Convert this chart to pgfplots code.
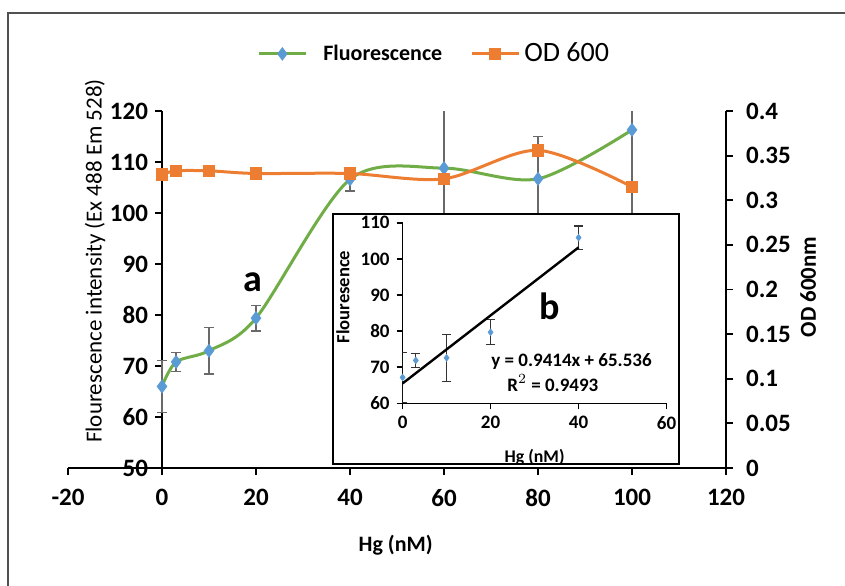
\documentclass[border=0pt]{standalone}
\usepackage{fontspec}
\setmainfont{Carlito}
\usepackage{pgfplots}
\usepackage{pgfplotstable}
\pgfplotsset{compat=1.18}
\definecolor{exgreen}{RGB}{112,173,71}
\definecolor{exblue}{RGB}{91,155,213}
\definecolor{exorange}{RGB}{237,125,49}
\definecolor{errgray}{RGB}{105,105,105}
\definecolor{framegray}{RGB}{80,80,80}

% main chart: fluorescence (left axis) with error
\pgfplotstableread{
x f fe
0 66.0 5.1
3 70.8 1.9
10 73.0 4.6
20 79.4 2.5
40 106.6 2.3
60 108.8 15
80 106.7 8.3
100 116.3 20
}\fluor
% main chart: OD 600 (right axis)
\pgfplotstableread{
x od
0 0.329
3 0.333
10 0.333
20 0.330
40 0.330
60 0.324
80 0.356
100 0.315
}\odtab
% inset b
\pgfplotstableread{
x f fe
0 67.2 7.0
3 71.9 1.9
10 72.6 6.5
20 79.7 3.5
40 105.9 3.2
}\insettab

\begin{document}
\begin{tikzpicture}
\path[use as bounding box] (-34pt,-58.5pt) rectangle (388.5pt,234pt);
\draw[framegray,line width=1pt] (-30pt,-60pt) -- (-30pt,227.5pt) -- (390pt,227.5pt);

\begin{axis}[
  scale only axis, width=329pt, height=178.5pt,
  xmin=-20, xmax=120, ymin=50, ymax=120,
  axis x line=bottom, axis y line=middle,
  axis line style={-, line width=0.9pt},
  hide obscured x ticks=false, hide obscured y ticks=false,
  xtick={-20,0,20,40,60,80,100,120}, ytick={50,60,70,80,90,100,110,120},
  tick align=outside, major tick length=3.5pt,
  tick style={black, line width=0.9pt},
  tick label style={font=\fontsize{12.5}{14}\selectfont\bfseries},
  xticklabel style={yshift=-3.5pt},
  /pgf/number format/assume math mode=true,
  clip mode=individual,
  legend style={at={(0.558,1.16)}, anchor=center, draw=none, fill=none,
    legend columns=2, /tikz/every even column/.append style={column sep=12pt}},
  legend image code/.code={\draw[mark repeat=2, mark phase=2] plot coordinates {(0pt,0pt) (11.75pt,0pt) (23.5pt,0pt)};},
]
\addlegendimage{exgreen, line width=1.5pt, mark=diamond*, mark options={exblue, draw=exblue, mark size=2.2pt}}
\addlegendentry{\hspace{6pt}\fontsize{11}{13}\selectfont\bfseries Fluorescence}
\addlegendimage{exorange, line width=1.5pt, mark=square*, mark options={exorange, mark size=2.2pt}}
\addlegendentry{\fontsize{14}{16}\selectfont OD 600}
\addplot[exgreen, line width=1.5pt, smooth, mark=diamond*, mark options={exblue, draw=exblue, mark size=2.3pt},
  error bars/.cd, y dir=both, y explicit,
  error bar style={errgray, line width=0.7pt},
  error mark options={rotate=90, errgray, mark size=2.6pt, line width=0.7pt}]
  table[x=x, y=f, y error=fe] {\fluor};
\node[font=\fontsize{19}{20}\selectfont\bfseries] at (axis cs:19.4,86.5) {a};
\node[rotate=90, font=\fontsize{11.5}{13}\selectfont] at (rel axis cs:0.041,0.58) {Flourescence intensity (Ex 488 Em 528)};
\node[font=\fontsize{11}{13}\selectfont\bfseries] at (rel axis cs:0.498,-0.216) {Hg (nM)};
\end{axis}

\begin{axis}[
  scale only axis, width=329pt, height=178.5pt,
  xmin=-20, xmax=120, ymin=0, ymax=0.4,
  axis x line=none, axis y line*=right,
  axis line style={-, line width=0.9pt},
  ytick={0,0.05,0.1,0.15,0.2,0.25,0.3,0.35,0.4},
  yticklabel style={/pgf/number format/fixed, /pgf/number format/precision=2, xshift=3pt},
  tick align=outside, major tick length=3.5pt,
  tick style={black, line width=0.9pt},
  tick label style={font=\fontsize{12.5}{14}\selectfont\bfseries},
  /pgf/number format/assume math mode=true,
  clip mode=individual,
]
\addplot[exorange, line width=1.5pt, smooth, mark=square*, mark options={exorange, mark size=2.4pt}]
  table[x=x, y=od] {\odtab};
\node[rotate=90, font=\fontsize{11.4}{13}\selectfont\bfseries] at (rel axis cs:1.125,0.507) {OD 600nm};
\end{axis}

% inset frame
\filldraw[fill=white, draw=black, line width=0.8pt] (132.5pt,2pt) rectangle (305.5pt,127pt);

\begin{axis}[
  at={(167.3pt,32.3pt)}, anchor=south west,
  scale only axis, width=132pt, height=90.3pt,
  xmin=0, xmax=60, ymin=60, ymax=110,
  axis x line=bottom, axis y line=left,
  axis line style={-, line width=0.8pt},
  xtick={0,20,40,60}, ytick={60,70,80,90,100,110},
  tick align=outside, major tick length=3pt,
  tick style={black, line width=0.8pt},
  tick label style={font=\fontsize{9.5}{11}\selectfont\bfseries},
  /pgf/number format/assume math mode=true,
  clip mode=individual,
]
\addplot[only marks, mark=diamond*, mark options={exblue, draw=exblue, mark size=1.6pt},
  error bars/.cd, y dir=both, y explicit,
  error bar style={black!80, line width=0.6pt},
  error mark options={rotate=90, black!80, mark size=2.2pt, line width=0.6pt}]
  table[x=x, y=f, y error=fe] {\insettab};
\addplot[black, line width=1.2pt] coordinates {(0,65.536) (40,103.192)};
\node[font=\fontsize{19}{20}\selectfont\bfseries] at (rel axis cs:0.558,0.539) {b};
\node[font=\fontsize{9.5}{11}\selectfont\bfseries] at (rel axis cs:0.64,0.234) {y = 0.9414x + 65.536};
\node[font=\fontsize{9.5}{11}\selectfont\bfseries] at (rel axis cs:0.569,0.114) {R$^2$ = 0.9493};
\node[rotate=90, font=\fontsize{9.3}{11}\selectfont\bfseries] at (rel axis cs:-0.226,0.589) {Flouresence};
\node[font=\fontsize{8.9}{11}\selectfont\bfseries] at (rel axis cs:0.50,-0.297) {Hg (nM)};
\end{axis}
\end{tikzpicture}
\end{document}
